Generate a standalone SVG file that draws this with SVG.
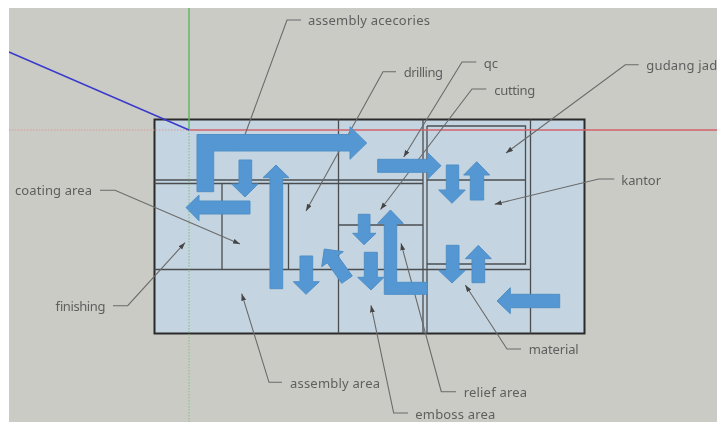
<svg xmlns="http://www.w3.org/2000/svg" width="717" height="422" viewBox="0 0 717 422">
<style>
.wall{fill:none;stroke:#4a4d50;stroke-width:1.3}
.outer{fill:#c4d4e0;stroke:#2b2b2b;stroke-width:2}
.lead{fill:none;stroke:#6a6a6a;stroke-width:1.1;marker-end:url(#tip)}
.flow{fill:#5497d3;stroke:#4f8fc6;stroke-width:1}
.lbl{font-family:"Noto Sans","DejaVu Sans",sans-serif;font-size:13px;fill:#5e5e5e}
</style>
<defs>
<marker id="tip" markerUnits="userSpaceOnUse" markerWidth="8" markerHeight="6" refX="7" refY="2.5" orient="auto"><path d="M0 0L7 2.5L0 5Z" fill="#454545"/></marker>
<filter id="soft" x="0" y="0" width="100%" height="100%"><feGaussianBlur stdDeviation="0.5"/></filter>
</defs>
<rect width="717" height="422" fill="#fff"/>
<g filter="url(#soft)">
<rect x="9" y="8" width="708" height="414" fill="#cbcbc6"/>
<g id="plan">
<rect class="outer" x="154.5" y="119.5" width="430" height="214"/>
<path class="wall" d="M338.5 119.5V333.5M423 119.5V333.5M427 126V333.5M530.5 119.5V333.5M427 126H525.5V264H427M154.5 180H423M154.5 183.5H423M427 180H525.5M154.5 269.5H530.5M222 183.5V269.5M288.5 183.5V269.5M338.5 225H423"/>
</g>
<g id="axes" fill="none">
<path d="M9 130H189" stroke="#d99a9a" stroke-width="1" stroke-dasharray="1.5 1.5"/>
<path d="M189 130H717" stroke="#d4626a" stroke-width="1.4"/>
<path d="M189 8V130" stroke="#5cb85c" stroke-width="1.4"/>
<path d="M189 130V422" stroke="#7ec07e" stroke-width="1" stroke-dasharray="1.5 1.5"/>
<path d="M9 52L189 130" stroke="#3a3acb" stroke-width="1.5"/>
</g>
<g id="connectors">
<path class="lead" d="M301 20H287L239 151"/>
<path class="lead" d="M396 71.7H383L306 211"/>
<path class="lead" d="M476.3 62H462L403.7 157"/>
<path class="lead" d="M486.3 89H472L380.5 209.5"/>
<path class="lead" d="M638.7 64.7H625.3L506 153"/>
<path class="lead" d="M614.3 179H598.7L494.7 204.3"/>
<path class="lead" d="M100 190.3H115L240 244"/>
<path class="lead" d="M113 305.7H127.7L185 242.7"/>
<path class="lead" d="M282 382.3H269L241.7 293.7"/>
<path class="lead" d="M408 413H393.7L371 305.3"/>
<path class="lead" d="M456 391.7H441.3L401 243.3"/>
<path class="lead" d="M521 349H507L465.3 285"/>
</g>
<g id="flow-arrows">
<polygon id="flow1" class="flow" points="197,191.7 197,134.5 350,134.5 350,126.7 366.7,143 350,159.3 350,151 213.7,151 213.7,191.7"/>
<polygon id="flow2" class="flow" points="239,160 251.7,160 251.7,184 258,184 245,197 231.7,184 239,184"/>
<polygon id="flow3" class="flow" points="250,201 199,201 199,195 186,207.5 199,220.7 199,214 250,214"/>
<polygon id="flow4" class="flow" points="270,288.7 282.7,288.7 282.7,177.7 289,177.7 276,165 263,177.7 270,177.7"/>
<polygon id="flow5" class="flow" points="300,256 312.7,256 312.7,281.7 319.3,281.7 306,294.3 293.3,281.7 300,281.7"/>
<polygon id="flow6" class="flow" points="341.7,283.3 352.3,276 337.7,255.6 343.3,251.7 324.3,249 321.7,266.7 327.3,262.8"/>
<polygon id="flow7" class="flow" points="358.3,214.3 370,214.3 370,233.3 376,233.3 364,244.7 352.7,233.3 358.3,233.3"/>
<polygon id="flow8" class="flow" points="364.3,252.3 377.3,252.3 377.3,277.3 384,277.3 371,290 357.7,277.3 364.3,277.3"/>
<polygon id="flow9" class="flow" points="384.3,294.3 427,294.3 427,282.3 396.7,282.3 396.7,223.3 403.3,223.3 390.5,210 377.7,223.3 384.3,223.3"/>
<polygon id="flow10" class="flow" points="377.7,159.3 427.7,159.3 427.7,152.7 441,165.7 427.7,179 427.7,172.3 377.7,172.3"/>
<polygon id="flow11" class="flow" points="446.3,165 458.7,165 458.7,190 465.3,190 452,203.3 438.7,190 446.3,190"/>
<polygon id="flow12" class="flow" points="470.3,200 483.7,200 483.7,175 489.7,175 476.7,161.7 463.7,175 470.3,175"/>
<polygon id="flow13" class="flow" points="446.3,245.3 459,245.3 459,270.3 465.3,270.3 452,283 438.7,270.3 446.3,270.3"/>
<polygon id="flow14" class="flow" points="472,282.7 484.7,282.7 484.7,258.7 491.3,258.7 478.3,245.3 465.3,258.7 472,258.7"/>
<polygon id="flow15" class="flow" points="559.7,294.3 510.3,294.3 510.3,287.7 497,301 510.3,313.7 510.3,307.7 559.7,307.7"/>
</g>
<g id="node-assembly-acecories"><text class="lbl" x="308" y="25" textLength="122">assembly acecories</text></g>
<g id="node-drilling"><text class="lbl" x="403.7" y="77" textLength="39.3">drilling</text></g>
<g id="node-qc"><text class="lbl" x="483.7" y="68" textLength="14.3">qc</text></g>
<g id="node-cutting"><text class="lbl" x="494.3" y="95" textLength="41">cutting</text></g>
<g id="node-gudang-jad"><text class="lbl" x="646.3" y="70" textLength="71">gudang jad</text></g>
<g id="node-kantor"><text class="lbl" x="621.3" y="185" textLength="39.7">kantor</text></g>
<g id="node-coating-area"><text class="lbl" x="15" y="195" textLength="77">coating area</text></g>
<g id="node-finishing"><text class="lbl" x="55" y="311" textLength="50">finishing</text></g>
<g id="node-assembly-area"><text class="lbl" x="290" y="388" textLength="90">assembly area</text></g>
<g id="node-emboss-area"><text class="lbl" x="415.3" y="419" textLength="80">emboss area</text></g>
<g id="node-relief-area"><text class="lbl" x="463.7" y="397" textLength="63.3">relief area</text></g>
<g id="node-material"><text class="lbl" x="528.7" y="354" textLength="50">material</text></g>
</g>
</svg>
